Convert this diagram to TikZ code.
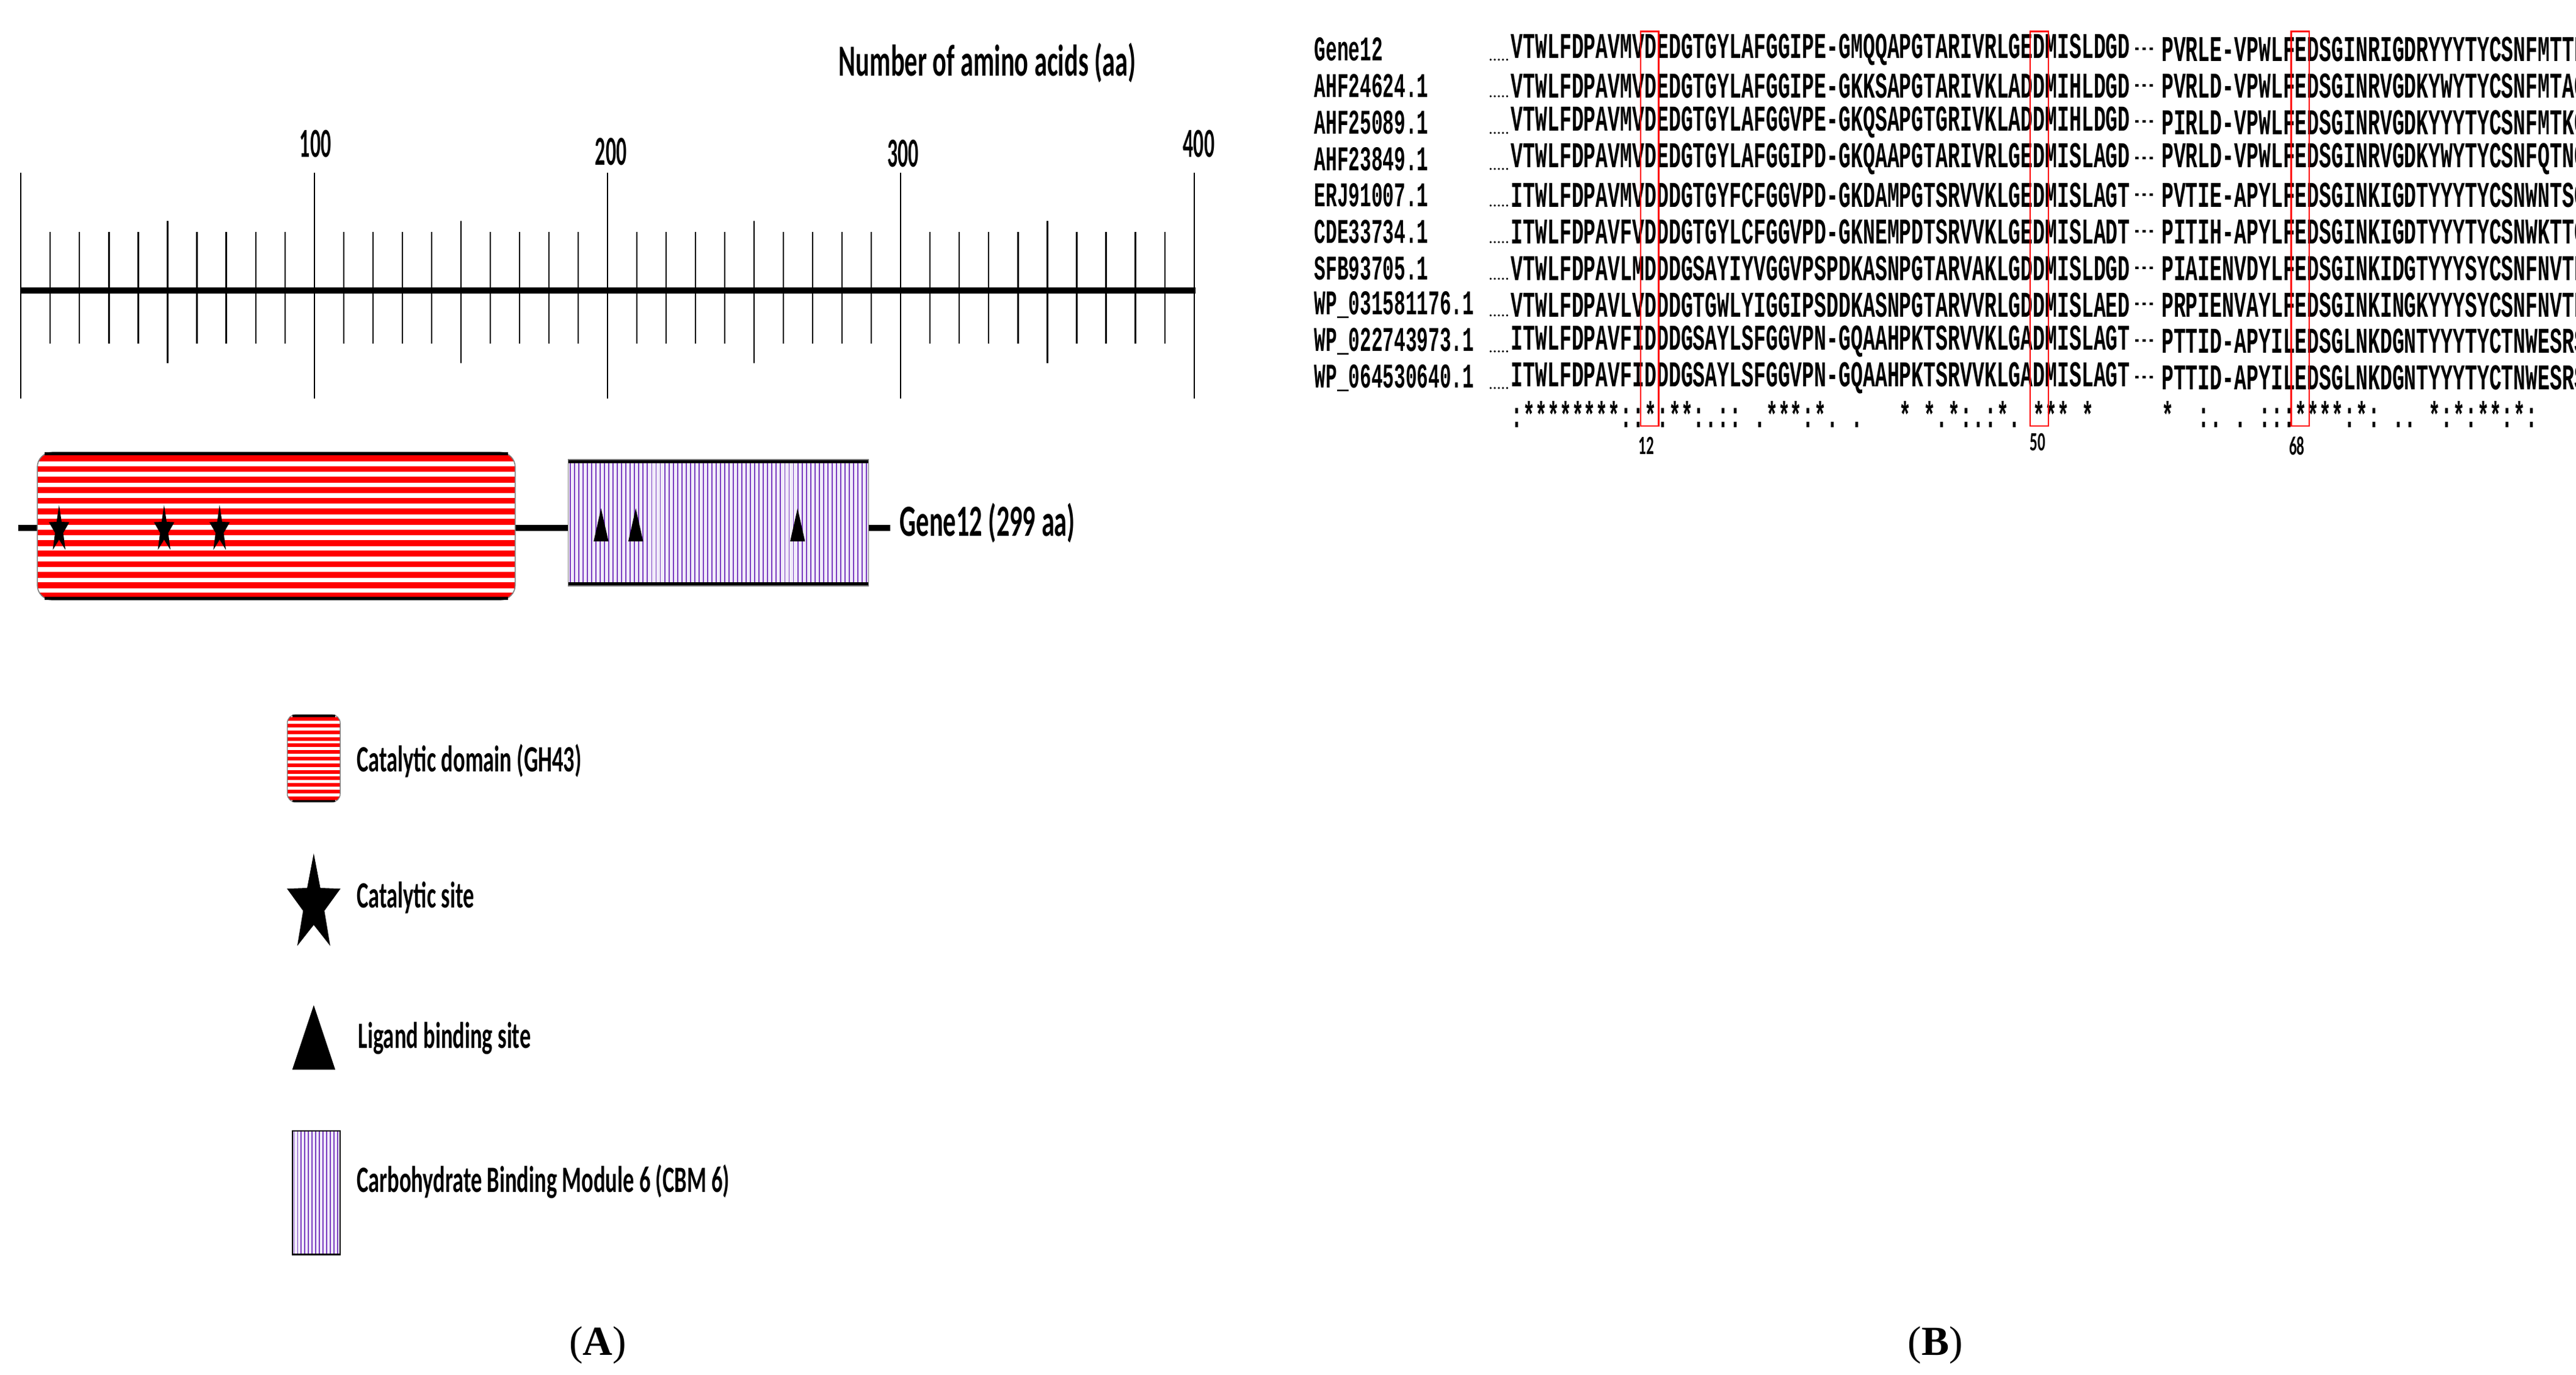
\documentclass[tikz,border=0pt]{standalone}
\usepackage{fontspec}
\setmainfont{Liberation Serif}
\newfontfamily\lab[FakeStretch=0.58]{Carlito}
\newfontfamily\labl[FakeStretch=0.6]{Carlito}
\newfontfamily\num[FakeStretch=0.5]{Carlito}
\newfontfamily\seqf[FakeStretch=0.557]{Liberation Mono}
\newfontfamily\namef[FakeStretch=0.548]{Liberation Mono}
\definecolor{gred}{HTML}{FF0000}
\definecolor{gpur}{HTML}{7A3CC0}
\definecolor{glav}{HTML}{F1ECFA}
\tikzset{
  txt/.style={inner sep=0pt,outer sep=0pt},
  seq/.style={txt,anchor=west,font=\seqf\bfseries\fontsize{22}{22}\selectfont},
  dsh/.style={txt,anchor=west,font=\seqf\bfseries\fontsize{13}{13}\selectfont},
  nam/.style={txt,anchor=west,font=\namef\bfseries\fontsize{21}{21}\selectfont},
  lbl/.style={txt,font=\lab\bfseries\fontsize{27}{27}\selectfont},
  leg/.style={txt,anchor=west,font=\labl\bfseries\fontsize{22.5}{22.5}\selectfont},
  tick/.style={txt,font=\num\bfseries\fontsize{25}{25}\selectfont},
  colbox/.style={draw=gred,line width=0.9pt},
}
\newcommand\mystar[4]{\fill[shift={(#1,#2)},xscale=#3,yscale=#4] (270:1) \foreach \k in {1,...,9}{ -- ({270+36*\k}:{ifthenelse(mod(\k,2)==0,1,0.4)}) } -- cycle;}
\begin{document}
\begin{tikzpicture}[x=1pt,y=-1pt]
\useasboundingbox[fill=white] (0,0) rectangle (1560,833);
% ---------- Panel A ----------
\node[lbl] (title) at (598,38) {Number of amino acids (aa)};
\foreach \i in {0,...,40}{
  \pgfmathsetmacro\xx{12.7+\i*17.76}
  \pgfmathtruncatemacro\mt{mod(\i,10)}
  \pgfmathtruncatemacro\mf{mod(\i,5)}
  \ifnum\mt=0
    \draw[line width=0.8pt] (\xx,104.8) -- (\xx,241.6);
  \else\ifnum\mf=0
    \draw[line width=0.8pt] (\xx,134) -- (\xx,220);
  \else
    \draw[line width=0.8pt] (\xx,140.5) -- (\xx,208);
  \fi\fi
}
\draw[line width=4pt] (12.7,176) -- (724,176);
\node[tick] (t100) at (191,87) {100};
\node[tick] (t200) at (370,92) {200};
\node[tick] (t300) at (547,93) {300};
\node[tick] (t400) at (726,87) {400};
% backbone
\draw[line width=3.7pt] (11,320) -- (23,320);
\draw[line width=3.7pt] (312,320) -- (344,320);
\draw[line width=3.7pt] (526,320) -- (539,320);
% red domain
\begin{scope}
\clip[rounded corners=9] (22.6,274) rectangle (312,363.5);
\fill[white] (22.6,274) rectangle (312,363.5);
\foreach \k in {0,...,13}{\fill[gred] (22.6,{276+\k*6.4}) rectangle (312,{279.6+\k*6.4});}
\end{scope}
\draw[gray,line width=0.6pt,rounded corners=9] (22.6,274) rectangle (312,363.5);
\draw[line width=2pt] (27,275) -- (307.6,275);
\draw[line width=2pt] (27,362.5) -- (307.6,362.5);
% purple domain
\fill[glav] (344,278.4) rectangle (526,355);
\foreach \k in {0,...,69}{\draw[gpur,line width=0.7pt] ({345.3+\k*2.6},278.4) -- ({345.3+\k*2.6},355);}
\draw[line width=2.2pt] (344,279.4) -- (526,279.4);
\draw[line width=2.2pt] (344,354) -- (526,354);
\draw[gray,line width=0.5pt] (344,278.4) rectangle (526,355);
% stars and triangles
\mystar{35.8}{321}{6.5}{15}
\mystar{99.4}{321}{6.5}{15}
\mystar{133}{321}{6.5}{15}
\foreach \tx in {364,385,483}{\fill (\tx-4.5,328) -- (\tx+4.5,328) -- (\tx,308) -- cycle;}
\node[lbl,anchor=west] (gene) at (545,317) {Gene12 (299 aa)};
% legend
\begin{scope}
\clip[rounded corners=5] (174,433) rectangle (206,486);
\fill[white] (174,433) rectangle (206,486);
\foreach \k in {0,...,12}{\fill[gred] (174,{434.5+\k*4}) rectangle (206,{436.7+\k*4});}
\end{scope}
\draw[gray,line width=0.5pt,rounded corners=5] (174,433) rectangle (206,486);
\draw[line width=1.4pt] (177,433.7) -- (203,433.7);
\draw[line width=1.4pt] (177,485.3) -- (203,485.3);
\node[leg] (l1) at (216,461) {Catalytic domain (GH43)};
\mystar{190}{548}{17}{31}
\node[leg] (l2) at (216,544) {Catalytic site};
\fill (177,648) -- (203,648) -- (190,609) -- cycle;
\node[leg] (l3) at (217,629) {Ligand binding site};
\fill[glav] (177,685) rectangle (206,760);
\foreach \k in {0,...,12}{\draw[gpur,line width=0.6pt] ({178+\k*2.2},685) -- ({178+\k*2.2},760);}
\draw[line width=0.8pt] (177,685) rectangle (206,760);
\node[leg] (l4) at (216,716) {Carbohydrate Binding Module 6 (CBM 6)};
\node[txt,font=\fontsize{25}{25}\selectfont] (capA) at (362,815) {(\textbf{A})};
\node[txt,font=\fontsize{25}{25}\selectfont] (capB) at (1172,815) {(\textbf{B})};
% ---------- Panel B ----------
\def\rows{%
Gene12/VTWLFDPAVMVDEDGTGYLAFGGIPE-GMQQAPGTARIVRLGEDMISLDGD/PVRLE-VPWLFEDSGINRIGDRYYYTYCSNFMTTR,
AHF24624.1/VTWLFDPAVMVDEDGTGYLAFGGIPE-GKKSAPGTARIVKLADDMIHLDGD/PVRLD-VPWLFEDSGINRVGDKYWYTYCSNFMTAG,
AHF25089.1/VTWLFDPAVMVDEDGTGYLAFGGVPE-GKQSAPGTGRIVKLADDMIHLDGD/PIRLD-VPWLFEDSGINRVGDKYYYTYCSNFMTKG,
AHF23849.1/VTWLFDPAVMVDEDGTGYLAFGGIPD-GKQAAPGTARIVRLGEDMISLAGD/PVRLD-VPWLFEDSGINRVGDKYWYTYCSNFQTNG,
ERJ91007.1/ITWLFDPAVMVDDDGTGYFCFGGVPD-GKDAMPGTSRVVKLGEDMISLAGT/PVTIE-APYLFEDSGINKIGDTYYYTYCSNWNTSG,
CDE33734.1/ITWLFDPAVFVDDDGTGYLCFGGVPD-GKNEMPDTSRVVKLGEDMISLADT/PITIH-APYLFEDSGINKIGDTYYYTYCSNWKTTG,
SFB93705.1/VTWLFDPAVLMDDDGSAYIYVGGVPSPDKASNPGTARVAKLGDDMISLDGD/PIAIENVDYLFEDSGINKIDGTYYYSYCSNFNVTP,
WP\_031581176.1/VTWLFDPAVLVDDDGTGWLYIGGIPSDDKASNPGTARVVRLGDDMISLAED/PRPIENVAYLFEDSGINKINGKYYYSYCSNFNVTP,
WP\_022743973.1/ITWLFDPAVFIDDDGSAYLSFGGVPN-GQAAHPKTSRVVKLGADMISLAGT/PTTID-APYILEDSGLNKDGNTYYYTYCTNWESRS,
WP\_064530640.1/ITWLFDPAVFIDDDGSAYLSFGGVPN-GQAAHPKTSRVVKLGADMISLAGT/PTTID-APYILEDSGLNKDGNTYYYTYCTNWESRS}
\foreach \nm/\sa/\sb [count=\r from 0] in \rows {
  \pgfmathsetmacro\yy{30+\r*22.1}
  \node[nam] (n\r) at (796,\yy) {\nm};
  \node[txt,anchor=south east,font=\fontsize{10}{10}\selectfont] (d\r) at (914,\yy+7) {.....};
  \node[seq] (a\r) at (915,\yy) {\sa};
  \node[dsh] (g\r) at (1292,\yy+1) {---};
  \node[seq] (b\r) at (1309,\yy) {\sb};
}
\node[seq] (ca) at (915,251) {:********::*:**:.::~.***:*.~.~~~*~*.*:.:*.~***~*};
\node[seq] (cb) at (1309,251) {*~~:.~.~:::****:*:~..~*:*:**:*:};
\draw[colbox] (993.5,19) rectangle (1004.5,258);
\draw[colbox] (1229.5,19) rectangle (1240.5,258);
\draw[colbox] (1387.5,19) rectangle (1398.5,258);
\node[txt,font=\lab\bfseries\fontsize{16}{16}\selectfont] (k12) at (997,270) {12};
\node[txt,font=\lab\bfseries\fontsize{16}{16}\selectfont] (k50) at (1234,268) {50};
\node[txt,font=\lab\bfseries\fontsize{16}{16}\selectfont] (k68) at (1391,270) {68};
\end{tikzpicture}
\end{document}
